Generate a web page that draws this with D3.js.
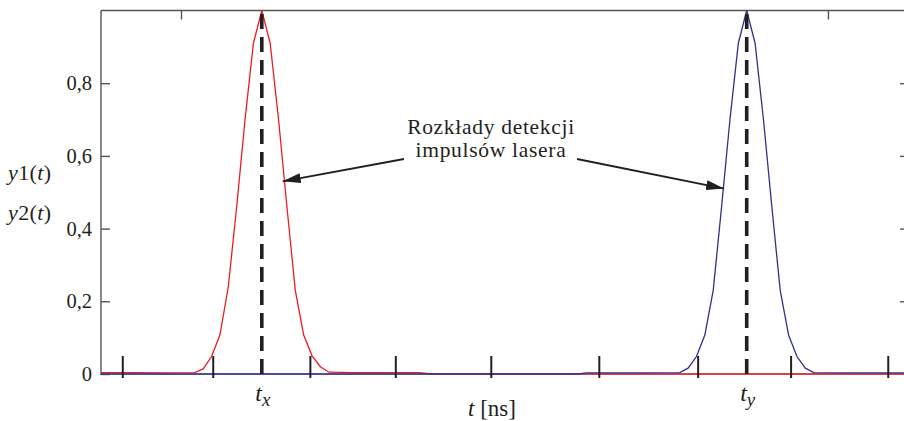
<!DOCTYPE html>
<html>
<head>
<meta charset="utf-8">
<script src="https://cdn.jsdelivr.net/npm/d3@7"></script>
<style>
  html, body { margin: 0; padding: 0; background: #fff; }
  svg { display: block; }
  text { font-family: "Liberation Serif", "Times New Roman", serif; fill: #231f20; }
</style>
</head>
<body>
<svg id="chart" width="904" height="421"></svg>
<script>
// ---- data ----
const tx = 19.2;   // ns, peak of y1
const ty = 77.1;   // ns, peak of y2

const redT = [0, 4, 8, 11.2, 12.2, 13.2, 14.2, 15.2, 16.2, 17.2, 18.2, 19.2, 20.2, 21.2, 22.2, 23.2, 24.2, 25.2, 26.2, 27.2, 30, 34, 38, 39.5, 96];
const redY = [0.004, 0.004, 0.003, 0.004, 0.014, 0.048, 0.107, 0.24, 0.46, 0.70, 0.91, 1.0, 0.91, 0.70, 0.46, 0.23, 0.107, 0.05, 0.02, 0.005, 0.004, 0.004, 0.004, 0, 0];

const blueT = [0, 57, 58, 64, 69.1, 70.1, 71.1, 72.1, 73.1, 74.1, 75.1, 76.1, 77.1, 78.1, 79.1, 80.1, 81.1, 82.1, 83.1, 84.1, 85.1, 90, 96];
const blueY = [0, 0, 0.003, 0.003, 0.004, 0.016, 0.048, 0.107, 0.23, 0.46, 0.70, 0.91, 1.0, 0.91, 0.70, 0.46, 0.23, 0.107, 0.048, 0.016, 0.004, 0.003, 0.003];

const yTicks = [0, 0.2, 0.4, 0.6, 0.8];
const markerT = [2.6, 13.4, 25.0, 35.2, 46.6, 59.5, 71.3, 82.4, 94.0];
const topTicksT = [9.55, 86.8];

const peakLabels = [{t: tx, base: "t", sub: "x"}, {t: ty, base: "t", sub: "y"}];
const annotation = ["Rozkłady detekcji", "impulsów lasera"];

// ---- layout ----
const svg = d3.select("#chart");
const x = d3.scaleLinear().domain([0, 96]).range([101, 905]);
const y = d3.scaleLinear().domain([0, 1]).range([374, 10.5]);
const axisColor = "#555";
const ink = "#231f20";

// frame: top & right borders
svg.append("line").attr("x1", x(0)).attr("x2", x(96)).attr("y1", y(1)).attr("y2", y(1))
  .attr("stroke", axisColor).attr("stroke-width", 1.4);
svg.append("line").attr("x1", x(96)).attr("x2", x(96)).attr("y1", y(1)).attr("y2", y(0))
  .attr("stroke", axisColor).attr("stroke-width", 1.4);
svg.append("line").attr("x1", x(0)).attr("x2", x(96)).attr("y1", y(0)).attr("y2", y(0))
  .attr("stroke", axisColor).attr("stroke-width", 1.2);

// left axis
const fmt = d => d === 0 ? "0" : d3.format(".1f")(d).replace(".", ",");
const yAxis = d3.axisLeft(y).tickValues(yTicks).tickFormat(fmt).tickSize(-9).tickPadding(9);
const gy = svg.append("g").attr("transform", `translate(${x(0)},0)`).call(yAxis);
gy.select(".domain").attr("stroke", axisColor).attr("stroke-width", 1.4).attr("d", `M0,${y(1)}V${y(0)+1}`);
gy.selectAll(".tick line").attr("stroke", axisColor).attr("stroke-width", 1.4);
gy.selectAll(".tick text").attr("font-size", 20.5).attr("fill", ink)
  .style("font-family", '"Liberation Serif", serif');

// right axis ticks
const yAxisR = d3.axisRight(y).tickValues(yTicks.slice(1)).tickFormat("").tickSize(-5);
const gyr = svg.append("g").attr("transform", `translate(${x(96)},0)`).call(yAxisR);
gyr.select(".domain").remove();
gyr.selectAll(".tick line").attr("stroke", axisColor).attr("stroke-width", 1.4);

// top ticks
const xAxisTop = d3.axisTop(x).tickValues(topTicksT).tickFormat("").tickSize(-9);
const gxt = svg.append("g").attr("transform", `translate(0,${y(1)})`).call(xAxisTop);
gxt.select(".domain").remove();
gxt.selectAll(".tick line").attr("stroke", axisColor).attr("stroke-width", 1.4);

// curves
const line = d3.line().x(d => x(d[0])).y(d => y(d[1]));
svg.append("path").datum(d3.zip(redT, redY)).attr("d", line)
  .attr("fill", "none").attr("stroke", "#ed1c24").attr("stroke-width", 1.3);
svg.append("path").datum(d3.zip(blueT, blueY)).attr("d", line)
  .attr("fill", "none").attr("stroke", "#2e3192").attr("stroke-width", 1.3);

// bottom marker ticks
svg.append("g").selectAll("line").data(markerT).join("line")
  .attr("x1", d => x(d)).attr("x2", d => x(d))
  .attr("y1", y(0) - 18).attr("y2", y(0) + 4)
  .attr("stroke", ink).attr("stroke-width", 2);

// dashed peak lines
svg.append("g").selectAll("line").data([tx, ty]).join("line")
  .attr("x1", d => x(d)).attr("x2", d => x(d))
  .attr("y1", y(0)).attr("y2", y(1))
  .attr("stroke", ink).attr("stroke-width", 3.6).attr("stroke-dasharray", "15,8");

// peak labels
peakLabels.forEach(p => {
  const t = svg.append("text").attr("x", x(p.t) + 1).attr("y", 401).attr("text-anchor", "middle")
    .attr("font-size", 24).attr("font-style", "italic");
  t.append("tspan").text(p.base);
  t.append("tspan").attr("dy", 5).attr("font-size", 19).text(p.sub);
});

// x axis title
const xt = svg.append("text").attr("x", 492).attr("y", 416).attr("text-anchor", "middle").attr("font-size", 23);
xt.append("tspan").attr("font-style", "italic").text("t");
xt.append("tspan").text(" [ns]");

// y axis titles
[["1", 180], ["2", 220]].forEach(([n, yy]) => {
  const t = svg.append("text").attr("x", 8).attr("y", yy).attr("font-size", 22).attr("letter-spacing", 0.4);
  t.append("tspan").attr("font-style", "italic").text("y");
  t.append("tspan").text(n + "(");
  t.append("tspan").attr("font-style", "italic").text("t");
  t.append("tspan").text(")");
});

// annotation
annotation.forEach((s, i) => {
  svg.append("text").attr("x", 491).attr("y", 134 + i * 23).attr("text-anchor", "middle")
    .attr("font-size", 21.5).attr("letter-spacing", 0.7).text(s);
});

// arrows
const defs = svg.append("defs");
defs.append("marker").attr("id", "ah").attr("viewBox", "0 0 18 10").attr("refX", 18).attr("refY", 5)
  .attr("markerWidth", 18).attr("markerHeight", 10).attr("markerUnits", "userSpaceOnUse").attr("orient", "auto")
  .append("path").attr("d", "M0,0L18,5L0,10Z").attr("fill", ink);
const arrows = [
  {x1: 404, y1: 159, t: tx + 2.5, v: 0.53},
  {x1: 577, y1: 159, t: ty - 2.7, v: 0.51}
];
arrows.forEach(a => {
  svg.append("line").attr("x1", a.x1).attr("y1", a.y1).attr("x2", x(a.t)).attr("y2", y(a.v))
    .attr("stroke", ink).attr("stroke-width", 1.8).attr("marker-end", "url(#ah)");
});
</script>
</body>
</html>
